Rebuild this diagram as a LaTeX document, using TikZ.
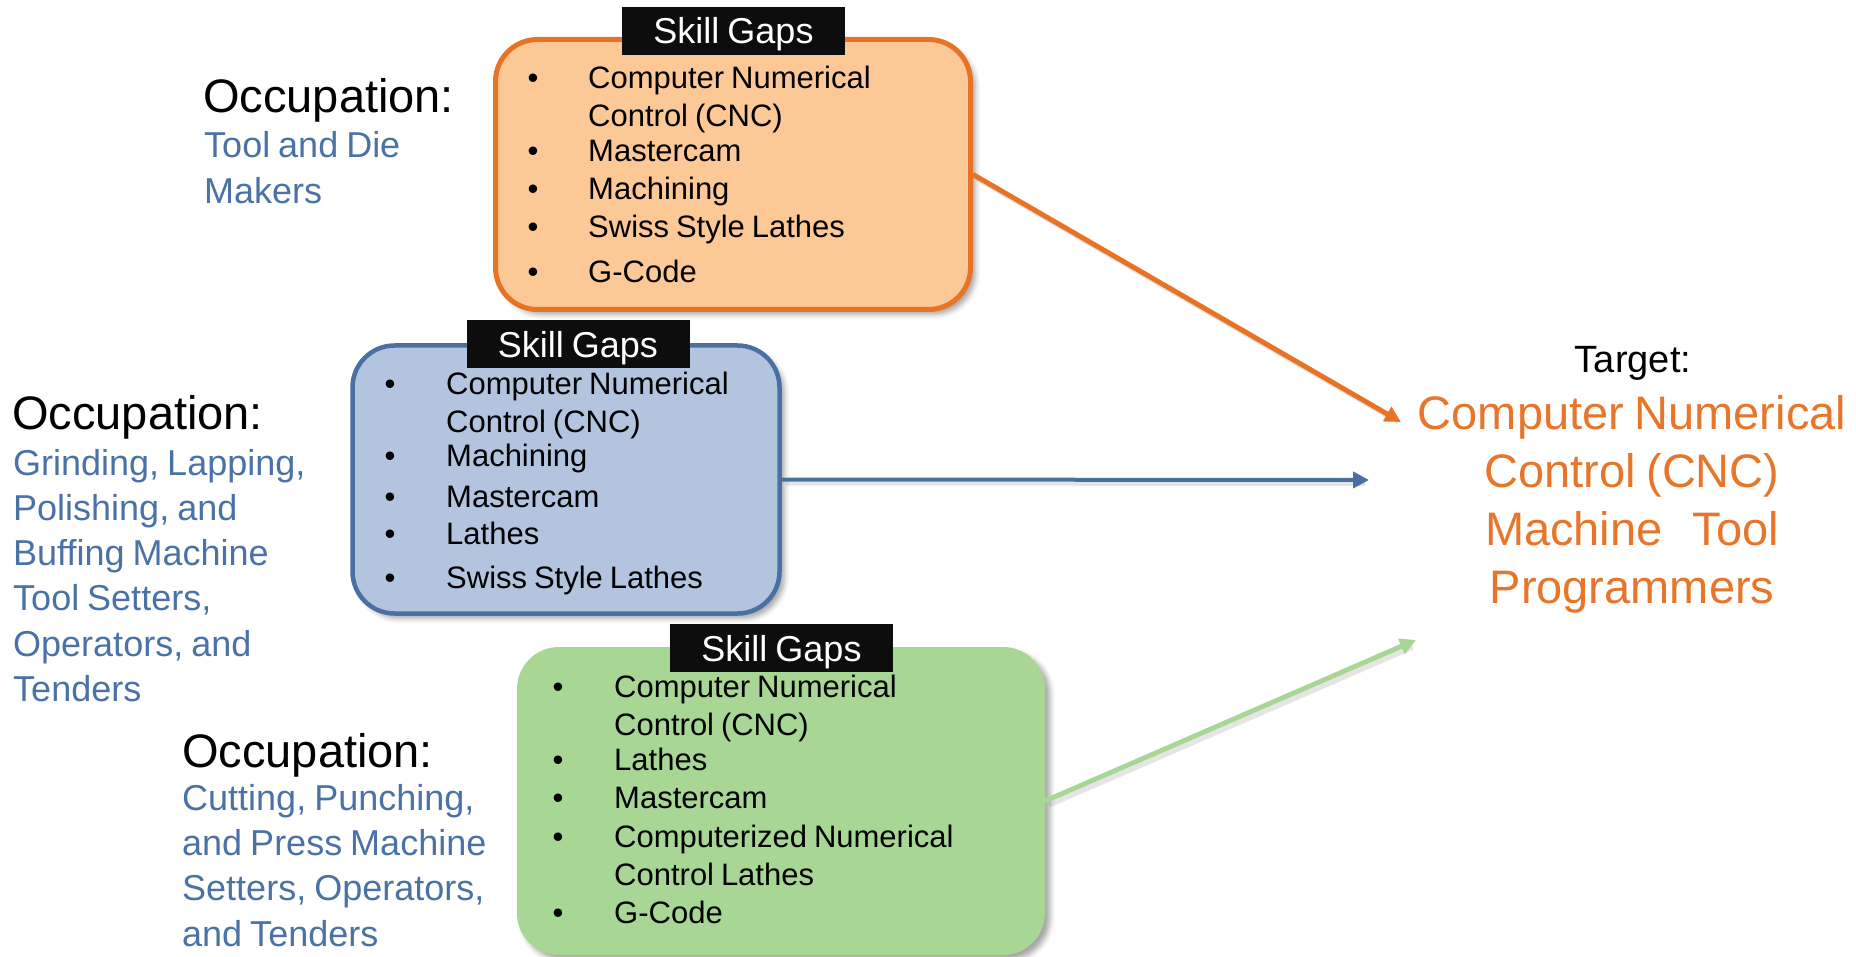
\documentclass[tikz,border=0pt]{standalone}
\usepackage{fontspec}
\setmainfont{Liberation Sans}[WordSpace=0.8]
\usetikzlibrary{arrows.meta,shadows.blur}

\definecolor{orLine}{RGB}{232,115,36}
\definecolor{orFill}{RGB}{252,201,150}
\definecolor{blLine}{RGB}{74,112,163}
\definecolor{blFill}{RGB}{178,196,222}
\definecolor{grFill}{RGB}{168,214,148}
\definecolor{occText}{RGB}{74,114,166}
\definecolor{tgtText}{RGB}{232,118,42}
\definecolor{hdrBlack}{RGB}{13,13,13}

\begin{document}
\begin{tikzpicture}[x=1pt,y=-1pt,
  gapbox/.style={rounded corners=42pt, inner sep=0pt,
    blur shadow={shadow xshift=5pt, shadow yshift=-5pt,
      shadow blur radius=5pt, shadow opacity=35}},
  hdr/.style={fill=hdrBlack, text=white, inner sep=0pt,
    font=\fontsize{36}{43}\selectfont,
    minimum width=223pt, minimum height=48pt,
    text height=26pt, text depth=0pt},
  itm/.style={anchor=base west, inner sep=0pt, font=\fontsize{31}{37}\selectfont},
  bul/.style={anchor=base, inner sep=0pt, font=\fontsize{31}{37}\selectfont},
  occ/.style={anchor=base west, inner sep=0pt, font=\fontsize{47}{56}\selectfont},
  % multi-line names are placed by the baseline of their last line
  occname/.style={anchor=base west, inner sep=0pt, align=left, text=occText,
    font=\fontsize{36}{45.3}\selectfont},
  conn/.style={line width=5pt, -{Triangle[length=16pt,width=16pt]}},
  connshade/.style={line width=5pt, draw=black, opacity=0.10, shorten >=8pt}
]
\useasboundingbox (0,0) rectangle (1856,957);

% ---- occupation: tool and die makers ----
\node[occ] (occA) at (203,113) {Occupation:};
\node[occname] (nameA) at (204,203.3) {Tool and Die\\Makers};

% ---- occupation: grinding ... tenders ----
\node[occ] (occB) at (12,430) {Occupation:};
\node[occname] (nameB) at (13,701.5)
  {Grinding, Lapping,\\Polishing, and\\Buffing Machine\\Tool Setters,\\Operators, and\\Tenders};

% ---- occupation: cutting ... tenders ----
\node[occ] (occC) at (182,767) {Occupation:};
\node[occname] (nameC) at (182,946)
  {Cutting, Punching,\\and Press Machine\\Setters, Operators,\\and Tenders};

% ---- skill gap boxes ----
\node[gapbox, draw=orLine, line width=5pt, fill=orFill,
      minimum width=475pt, minimum height=270pt] (gapsA) at (733,174.5) {};
\node[gapbox, draw=blLine, line width=4.5pt, fill=blFill,
      minimum width=427pt, minimum height=268pt] (gapsB) at (566,479.5) {};
\node[gapbox, fill=grFill,
      minimum width=528pt, minimum height=308pt] (gapsC) at (781,801) {};

\node[hdr] (hdrA) at (733.5,31) {Skill Gaps};
\node[hdr] (hdrB) at (578,344.5) {Skill Gaps};
\node[hdr] (hdrC) at (781.5,648) {Skill Gaps};

% orange list
\node[bul] (bA1) at (533,89) {•};  \node[itm] (iA1) at (588,89) {Computer Numerical};
                                   \node[itm] (iA1b) at (588,127) {Control (CNC)};
\node[bul] (bA2) at (533,162) {•}; \node[itm] (iA2) at (588,162) {Mastercam};
\node[bul] (bA3) at (533,200) {•}; \node[itm] (iA3) at (588,200) {Machining};
\node[bul] (bA4) at (533,238) {•}; \node[itm] (iA4) at (588,238) {Swiss Style Lathes};
\node[bul] (bA5) at (533,283) {•}; \node[itm] (iA5) at (588,283) {G-Code};

% blue list
\node[bul] (bB1) at (390,395) {•}; \node[itm] (iB1) at (446,395) {Computer Numerical};
                                   \node[itm] (iB1b) at (446,433) {Control (CNC)};
\node[bul] (bB2) at (390,467) {•}; \node[itm] (iB2) at (446,467) {Machining};
\node[bul] (bB3) at (390,507) {•}; \node[itm] (iB3) at (446,507) {Mastercam};
\node[bul] (bB4) at (390,544) {•}; \node[itm] (iB4) at (446,544) {Lathes};
\node[bul] (bB5) at (390,588) {•}; \node[itm] (iB5) at (446,588) {Swiss Style Lathes};

% green list
\node[bul] (bC1) at (558,697) {•}; \node[itm] (iC1) at (614,697) {Computer Numerical};
                                   \node[itm] (iC1b) at (614,735) {Control (CNC)};
\node[bul] (bC2) at (558,770) {•}; \node[itm] (iC2) at (614,770) {Lathes};
\node[bul] (bC3) at (558,808) {•}; \node[itm] (iC3) at (614,808) {Mastercam};
\node[bul] (bC4) at (558,847) {•}; \node[itm] (iC4) at (614,847) {Computerized Numerical};
                                   \node[itm] (iC4b) at (614,885) {Control Lathes};
\node[bul] (bC5) at (558,923) {•}; \node[itm] (iC5) at (614,923) {G-Code};

% ---- target ----
\node[anchor=base, inner sep=0pt, font=\fontsize{38}{46}\selectfont] (tgtLabel) at (1633,373) {Target:};
\node[anchor=base, inner sep=0pt, align=center, text=tgtText,
      font=\fontsize{47}{57.7}\selectfont] (tgt) at (1632,603)
  {Computer Numerical\\Control (CNC)\\\makebox[294pt]{Machine\hfill Tool}\\Programmers};

% ---- connectors ----
\coordinate (endA) at (1401,422);
\coordinate (endB) at (1369,480);
\coordinate (endC) at (1416,640);

\draw[connshade, transform canvas={shift={(4pt,-4pt)}}] (gapsA.east) -- (endA);
\draw[connshade, line width=4pt, transform canvas={shift={(4pt,-4pt)}}] (gapsB.east) -- (endB);
\draw[connshade, transform canvas={shift={(4pt,-4pt)}}] (gapsC.east) -- (endC);

\draw[conn, draw=orLine, fill=orLine] (gapsA.east) -- (endA);
\draw[conn, draw=blLine, fill=blLine, line width=4pt] (gapsB.east) -- (endB);
\draw[conn, draw=grFill, fill=grFill] (gapsC.east) -- (endC);
\end{tikzpicture}
\end{document}
